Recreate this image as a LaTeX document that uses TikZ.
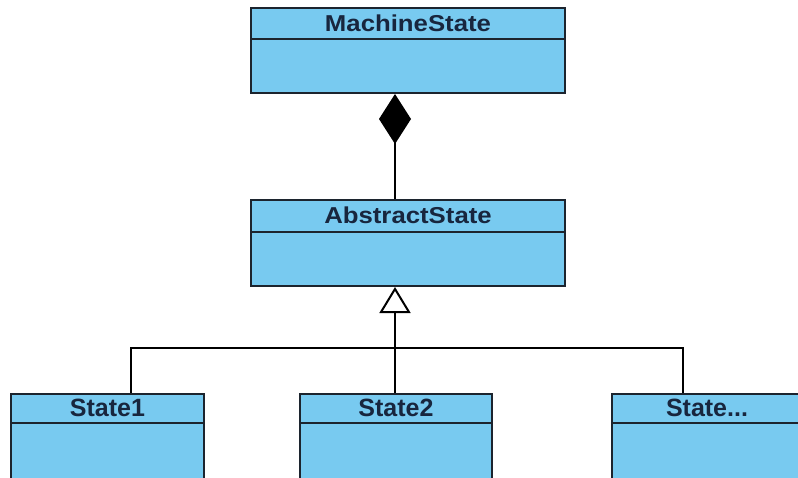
\documentclass[tikz,border=0pt]{standalone}
\usepackage{fontspec}
\setmainfont{Liberation Sans}
\newfontfamily\widefont[FakeStretch=1.12]{Liberation Sans}
\usetikzlibrary{arrows.meta}
\definecolor{boxfill}{RGB}{120,202,240}
\definecolor{boxline}{RGB}{28,36,46}
\definecolor{txt}{RGB}{24,38,62}
\begin{document}
\begin{tikzpicture}[x=1pt,y=-1pt,
  cls/.style={draw=boxline, fill=boxfill, line width=2pt, rectangle, anchor=north west, inner sep=0pt},
  divider/.style={draw=boxline, line width=2pt},
  toptitle/.style={text=txt, font=\widefont\bfseries\fontsize{23}{23}\selectfont, inner sep=0pt},
  subtitle/.style={text=txt, font=\bfseries\fontsize{25}{25}\selectfont, inner sep=0pt},
  conn/.style={draw=black, line width=2pt}
]
\useasboundingbox (0,0) rectangle (798,477);
\fill[white] (0,0) rectangle (798,477);

% MachineState
\node[cls, minimum width=314pt, minimum height=85pt] (ms) at (250,7) {};
\draw[divider] ([yshift=-32pt]ms.north west) -- ([yshift=-32pt]ms.north east);
\node[toptitle] (mst) at ([yshift=-16pt]ms.north) {MachineState};

% AbstractState
\node[cls, minimum width=314pt, minimum height=86pt] (as) at (250,199) {};
\draw[divider] ([yshift=-33pt]as.north west) -- ([yshift=-33pt]as.north east);
\node[toptitle] (ast) at ([yshift=-16.5pt]as.north) {AbstractState};

% States
\node[cls, minimum width=193pt, minimum height=110pt] (s1) at (10,393) {};
\draw[divider] ([yshift=-30pt]s1.north west) -- ([yshift=-30pt]s1.north east);
\node[subtitle] (s1t) at ([yshift=-15pt]s1.north) {State1};

\node[cls, minimum width=192pt, minimum height=110pt] (s2) at (299,393) {};
\draw[divider] ([yshift=-30pt]s2.north west) -- ([yshift=-30pt]s2.north east);
\node[subtitle] (s2t) at ([yshift=-15pt]s2.north) {State2};

\node[cls, minimum width=190pt, minimum height=110pt] (s3) at (611,393) {};
\draw[divider] ([yshift=-30pt]s3.north west) -- ([yshift=-30pt]s3.north east);
\node[subtitle] (s3t) at ([yshift=-15pt]s3.north) {State...};

% connector column
\coordinate (b1) at (131,348);
\coordinate (bm) at (395,348);
\coordinate (b3) at (683,348);

% composition
\draw[conn, -{Diamond[length=50pt,width=32pt,fill=black]}] (bm |- as.north) -- (bm |- ms.south);

% generalization
\draw[conn] (b1 |- s1.north) -- (b1) -- (b3) -- (b3 |- s3.north);
\draw[conn, -{Triangle[open,length=26pt,width=31pt,fill=white]}] (bm |- s2.north) -- (bm |- as.south);
\end{tikzpicture}
\end{document}
